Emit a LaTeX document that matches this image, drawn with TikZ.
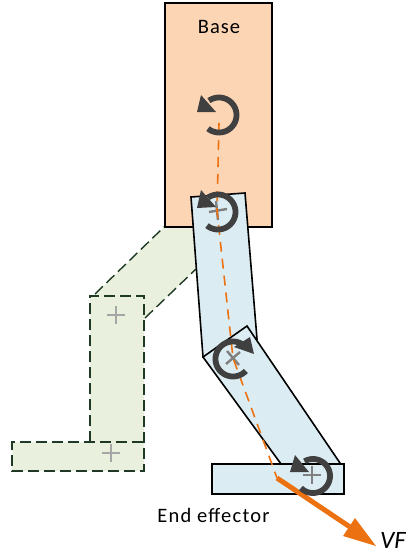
\documentclass[tikz,border=0pt]{standalone}
\usepackage{fontspec}
\setmainfont{Carlito}
\definecolor{basefill}{HTML}{FCD5B5}
\definecolor{linkfill}{HTML}{DBEDF3}
\definecolor{ghostfill}{HTML}{EAF0DE}
\definecolor{ghostline}{HTML}{1F3A24}
\definecolor{orangeline}{HTML}{EC7211}
\definecolor{arcgrey}{HTML}{404040}
\definecolor{crossgrey}{HTML}{A6A6A6}
\tikzset{
  x=1pt,y=-1pt,
  solidbox/.style={draw=black,line width=1.6pt,line join=miter},
  ghostedge/.style={draw=ghostline,line width=1.4pt,dash pattern=on 11pt off 5pt},
  crossmark/.style={draw=crossgrey,line width=2.4pt},
  crossdark/.style={draw=gray,line width=2.4pt},
  axisline/.style={draw=orangeline,line width=1.6pt,dash pattern=on 10pt off 7pt},
  spinarc/.style={draw=arcgrey,line width=5.8pt,samples=60,variable=\t},
  spinhead/.style={fill=arcgrey,draw=none},
  lab/.style={inner sep=0pt,text=black},
}
\begin{document}
\begin{tikzpicture}
\useasboundingbox (0,0) rectangle (406,557);
% ghost links
\fill[ghostfill] (95,295) -- (165,226) -- (196,227) -- (196,269) -- (144,319) -- (144,442) -- (144,471) -- (12,471) -- (12,442) -- (90,442) -- (90,296) -- cycle;
\draw[ghostedge] (95,294) -- (165,226);
\draw[ghostedge] (145,318) -- (196,269);
\draw[ghostedge] (90,442) -- (90,296) -- (144,296) -- (144,471) -- (12,471) -- (12,442) -- (144,442);
% plus marks of the ghost
\draw[crossmark] (107,315) -- (125,315) (116,306) -- (116,324);
\draw[crossmark] (102,453) -- (120,453) (111,444) -- (111,462);
% base and real links
\draw[solidbox,fill=basefill] (165,3) rectangle (272,227);
\draw[solidbox,fill=linkfill] (191,197) -- (245,193) -- (257,339) -- (203,357) -- cycle;
\draw[solidbox,fill=linkfill] (203,357) -- (247,326) -- (340,463) -- (300,490) -- cycle;
\draw[solidbox,fill=linkfill] (212,464) rectangle (344,494);
% plus marks of the links
\draw[crossdark] (209,212) -- (227,209) (216,201) -- (218,220);
\draw[crossdark] (227,351) -- (239,365) (226,364) -- (240,352);
\draw[crossdark] (303,475) -- (321,475) (312,466) -- (312,484);
% axis
\draw[axisline] (219,123) -- (217,211) -- (233,358) -- (277,478);
% force arrow
\coordinate (vfstart) at (277,478);
\coordinate (vftip) at (376,546);
\draw[orangeline,line width=5pt] (vfstart) -- (350,527);
\fill[orangeline] (vftip) -- (355,518) -- (343,536) -- cycle;
% spin arrows
\draw[spinarc] plot[domain=129:-125] ({219+17.5*cos(\t)},{115+17.5*sin(\t)});
\fill[spinhead] (197,112) -- (201,95) -- (216,112) -- cycle;
\draw[spinarc] plot[domain=129:-125] ({218+17.5*cos(\t)},{212+17.5*sin(\t)});
\fill[spinhead] (197,208) -- (201,190) -- (216,207) -- cycle;
\draw[spinarc] plot[domain=43:300] ({233+17.5*cos(\t)},{359+17.5*sin(\t)});
\fill[spinhead] (254,354) -- (250,337) -- (234,347) -- cycle;
\draw[spinarc] plot[domain=135:-120] ({313+17*cos(\t)},{476+17*sin(\t)});
\fill[spinhead] (290,472) -- (295,455) -- (309,472) -- cycle;
% labels
\node[lab] (baselabel) at (219,27) {\fontsize{20.5pt}{22pt}\selectfont\addfontfeature{LetterSpace=5}Base};
\node[lab] (eelabel) at (213.5,515) {\fontsize{20.5pt}{22pt}\selectfont\addfontfeature{LetterSpace=6}End effector};
\node[lab] (vflabel) at (393,540) {\fontsize{25pt}{27pt}\selectfont\itshape VF};
\end{tikzpicture}
\end{document}
